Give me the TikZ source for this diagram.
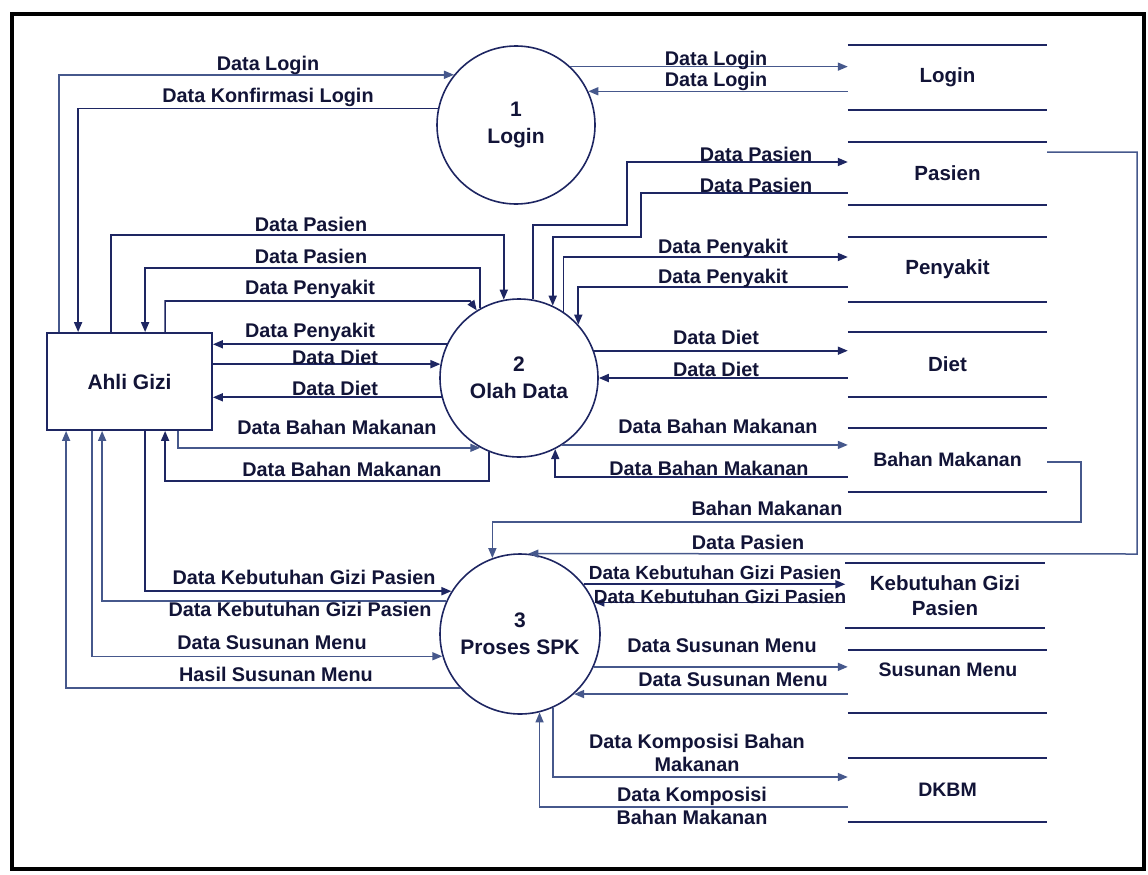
\documentclass[tikz,border=0pt]{standalone}
\usepackage{fontspec}
\setmainfont{Liberation Sans}
\usetikzlibrary{arrows.meta,calc}
\definecolor{ln}{RGB}{30,38,98}
\definecolor{lnf}{RGB}{70,88,140}
\definecolor{txt}{RGB}{18,20,55}
\begin{document}
\begin{tikzpicture}[x=1pt,y=-1pt,
  flow/.style={draw=ln, line width=1.7pt, -{Triangle[length=10pt,width=8pt]}},
  faded/.style={draw=lnf, line width=1.5pt},
  lbl/.style={font=\fontsize{19.8}{23}\selectfont\bfseries, text=txt, inner sep=0pt, align=center},
  slbl/.style={lbl, font=\fontsize{19}{23}\selectfont\bfseries},
  proc/.style={circle, draw=ln, line width=1.6pt, inner sep=0pt, font=\fontsize{21}{27}\selectfont\bfseries, text=txt, align=center},
  entity/.style={rectangle, draw=ln, line width=1.8pt, inner sep=0pt, font=\fontsize{21}{25}\selectfont\bfseries, text=txt},
  storeline/.style={draw=ln, line width=2pt},
  store/.style={minimum width=199pt, inner sep=0pt, font=\fontsize{20.5}{25}\selectfont\bfseries, align=center, text=txt,
    append after command={(\tikzlastnode.north west) edge[storeline] (\tikzlastnode.north east)
                          (\tikzlastnode.south west) edge[storeline] (\tikzlastnode.south east)}},
  smallstore/.style={store, font=\fontsize{19.5}{24}\selectfont\bfseries},
  storetext/.style={inner sep=0pt, font=\fontsize{19.5}{24}\selectfont\bfseries, text=txt}
]
\useasboundingbox (0,0) rectangle (1148,875);
\fill[white] (0,0) rectangle (1148,875);
\draw[line width=3.5pt, black] (12,14) rectangle (1144,869);

% entity and processes
\node[entity, minimum width=165pt, minimum height=97pt] (ahli) at (129.5,381.5) {Ahli Gizi};
\node[proc, minimum size=158pt] (login) at (516,125) {1\\Login};
\node[proc, minimum size=158pt] (olah) at (519,378) {2\\Olah Data};
\node[proc, minimum size=160pt] (spk) at (520,634) {3\\Proses SPK};

% data stores
\node[store, minimum height=65pt] (sLogin) at (947.5,77.5) {Login};
\node[store, minimum height=63pt] (sPasien) at (947.5,173.5) {Pasien};
\node[store, minimum height=65pt] (sPenyakit) at (947.5,269.5) {Penyakit};
\node[store, minimum height=65pt] (sDiet) at (947.5,364.5) {Diet};
\node[smallstore, minimum height=64pt] (sBahan) at (947.5,460) {Bahan Makanan};
\node[store, minimum height=65pt] (sKeb) at (945,595.5) {Kebutuhan Gizi\\Pasien};
\node[smallstore, minimum height=63pt] (sSus) at (947.5,681.5) {};
\node[storetext] (tSus) at (948,670) {Susunan Menu};
\node[smallstore, minimum height=64pt] (sDKBM) at (947.5,790) {DKBM};

% Login flows
\draw[flow,faded] ($(ahli.north west)+(13,0)$) |- (login.141);
\draw[flow] (login.168) -| ($(ahli.north west)+(32,0)$);
\draw[flow,faded] (login.47) -- (login.47 -| sLogin.west);
\draw[flow,faded] (login.25 -| sLogin.west) -- (login.25);

% Ahli Gizi <-> Olah Data
\draw[flow] ($(ahli.north west)+(65,0)$) -- ++(0,-97) -| (olah.101);
\draw[flow] (olah.119) -- (olah.119 |- 0,268) -| ($(ahli.north west)+(99,0)$);
\draw[flow] ($(ahli.north west)+(119,0)$) |- (470,301) -- (olah.122);
\draw[flow] (olah.155) -- (olah.155 -| ahli.east);
\draw[flow] (olah.170 -| ahli.east) -- (olah.170);
\draw[flow] (olah.194) -- (olah.194 -| ahli.east);
\draw[flow,faded] ($(ahli.south west)+(132,0)$) |- (olah.241);
\draw[flow] (olah.248) -- (olah.248 |- 0,481) -| ($(ahli.south west)+(119,0)$);

% Olah Data <-> stores
\draw[flow] (olah.80) |- (627,225) |- (sPasien.west |- 0,162);
\draw[flow] (sPasien.west |- 0,193) -| (641,237) -| (olah.65);
\draw[flow] (olah.56) |- (sPenyakit.west |- 0,257);
\draw[flow] (sPenyakit.west |- 0,287) -| (olah.42);
\draw[flow] (olah.20) -- (olah.20 -| sDiet.west);
\draw[flow] (olah.east -| sDiet.west) -- (olah.east);
\draw[flow,faded] (olah.303) -- (olah.303 -| sBahan.west);
\draw[flow] (sBahan.west |- 0,477) -| (olah.297);

% stores -> Proses SPK
\draw[flow,faded] (sBahan.east |- 0,462) -| (1081,522) -| (spk.110);
\draw[flow,faded] (sPasien.east |- 0,152) -| (1137,554) -- (spk.84);

% Ahli Gizi <-> Proses SPK
\draw[flow] ($(ahli.south west)+(99,0)$) |- (spk.148);
\draw[flow,faded] (spk.156) -| ($(ahli.south west)+(56,0)$);
\draw[flow,faded] ($(ahli.south west)+(46,0)$) |- (spk.196);
\draw[flow,faded] (spk.222) -| ($(ahli.south west)+(20,0)$);

% Proses SPK <-> stores
\draw[flow] (spk.38) -- (spk.38 -| sKeb.west);
\draw[flow] (spk.23 -| sKeb.west) -- (spk.23);
\draw[flow,faded] (spk.336) -- (spk.336 -| sSus.west);
\draw[flow,faded] (spk.312 -| sSus.west) -- (spk.312);
\draw[flow,faded] (spk.294) |- (sDKBM.west |- 0,777);
\draw[flow,faded] (sDKBM.west |- 0,807) -| (spk.284);

% labels, left side
\node[lbl] (l1) at (268,65) {Data Login};
\node[lbl] (l2) at (268,97) {Data Konfirmasi Login};
\node[lbl] (l3) at (311,224) {Data Pasien};
\node[lbl] (l4) at (311,256) {Data Pasien};
\node[lbl] (l5) at (310,289) {Data Penyakit};
\node[lbl] (l6) at (310,332) {Data Penyakit};
\node[lbl] (l7) at (335,357) {Data Diet};
\node[lbl] (l8) at (335,388) {Data Diet};
\node[lbl] (l9) at (337,427) {Data Bahan Makanan};
\node[lbl] (l10) at (342,469) {Data Bahan Makanan};
\node[lbl] (l11) at (304,577) {Data Kebutuhan Gizi Pasien};
\node[lbl] (l12) at (300,609) {Data Kebutuhan Gizi Pasien};
\node[lbl] (l13) at (272,643) {Data Susunan Menu};
\node[lbl] (l14) at (276,674) {Hasil Susunan Menu};

% labels, right side
\node[lbl] (r1) at (716,60) {Data Login};
\node[lbl] (r2) at (716,81) {Data Login};
\node[lbl] (r3) at (756,154) {Data Pasien};
\node[lbl] (r4) at (756,185) {Data Pasien};
\node[lbl] (r5) at (723,248) {Data Penyakit};
\node[lbl] (r6) at (723,278) {Data Penyakit};
\node[lbl] (r7) at (716,337) {Data Diet};
\node[lbl] (r8) at (716,369) {Data Diet};
\node[lbl] (r9) at (718,426) {Data Bahan Makanan};
\node[lbl] (r10) at (709,468) {Data Bahan Makanan};
\node[lbl] (r11) at (767,508) {Bahan Makanan};
\node[lbl] (r12) at (748,542) {Data Pasien};
\node[slbl] (r13) at (715,573) {Data Kebutuhan Gizi Pasien};
\node[slbl] (r14) at (720,597) {Data Kebutuhan Gizi Pasien};
\node[lbl] (r15) at (722,646) {Data Susunan Menu};
\node[lbl] (r16) at (733,680) {Data Susunan Menu};
\node[lbl] (r17) at (697,753) {Data Komposisi Bahan\\Makanan};
\node[lbl] (r18) at (692,806) {Data Komposisi\\Bahan Makanan};
\end{tikzpicture}
\end{document}
